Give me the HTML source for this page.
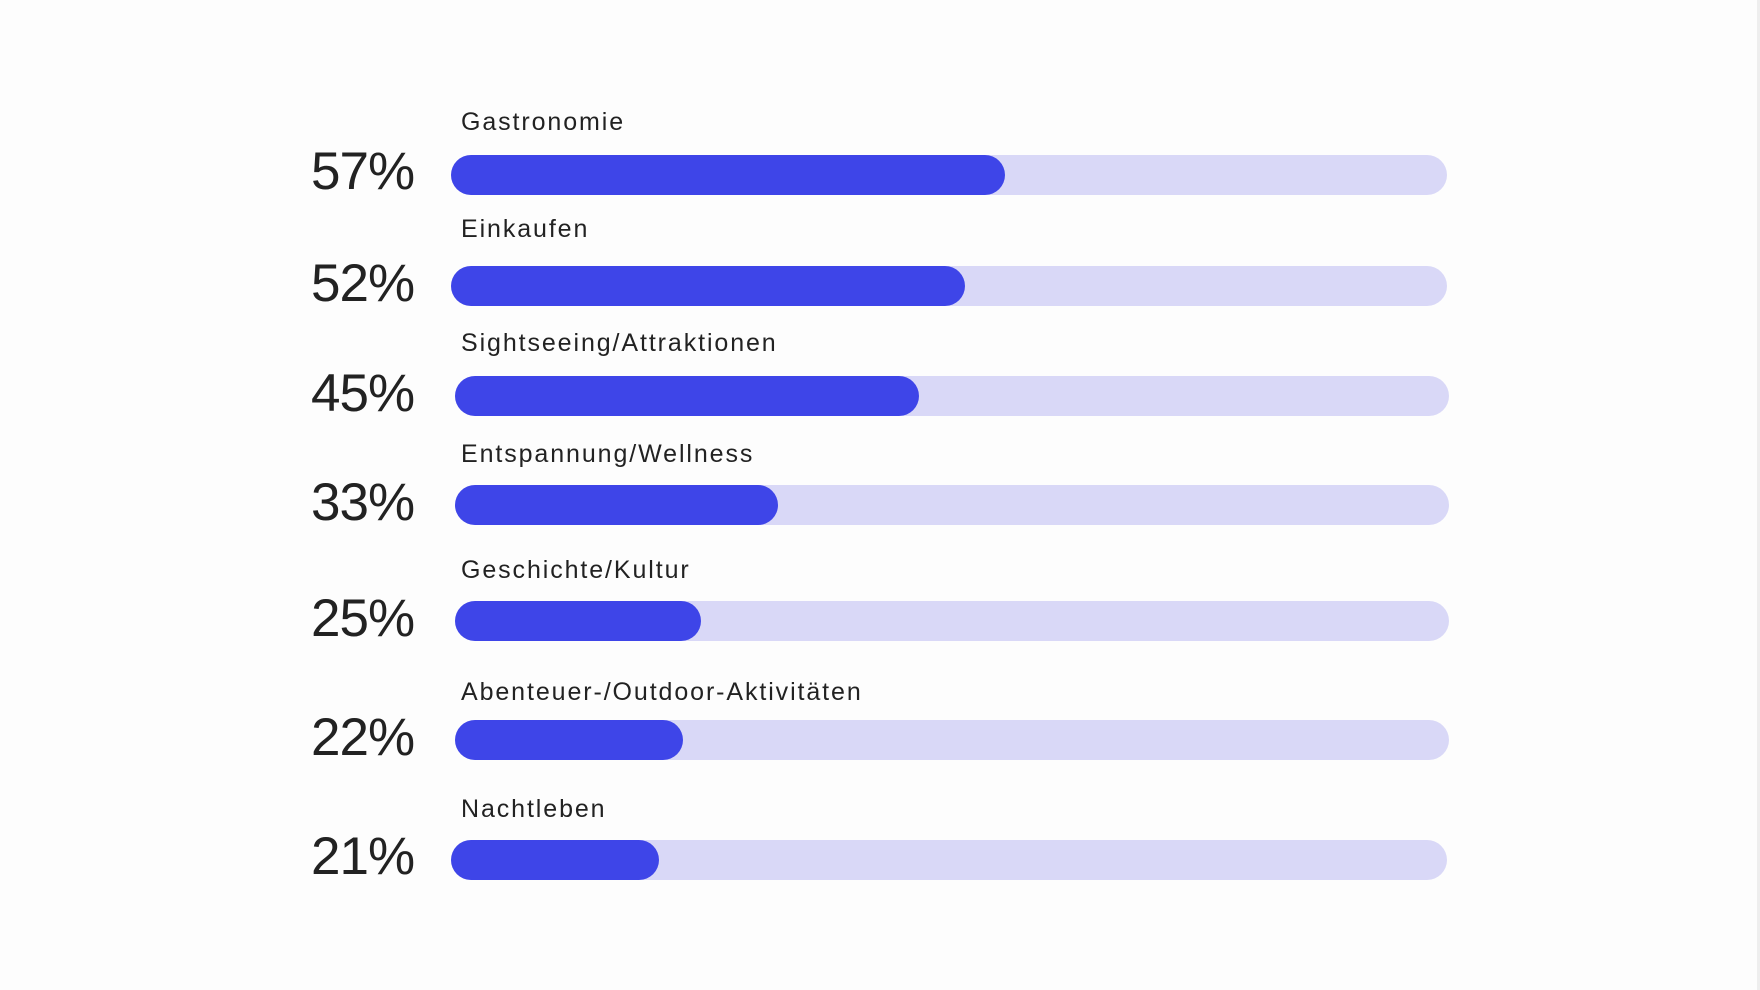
<!DOCTYPE html>
<html><head><meta charset="utf-8"><style>
html,body{margin:0;padding:0;background:#fdfdfd;}
body{width:1760px;height:990px;position:relative;overflow:hidden;font-family:"Liberation Sans",sans-serif;color:#222;}
.pct{position:absolute;left:311px;font-size:53px;line-height:60px;height:60px;letter-spacing:-1px;}
.lab{position:absolute;left:461px;font-size:25px;line-height:30px;height:30px;letter-spacing:1.9px;white-space:nowrap;}
.track{position:absolute;height:40px;border-radius:20px;background:#d9d8f7;}
.fill{position:absolute;left:0;top:0;height:40px;border-radius:20px;background:#3e45e8;}
.vl{position:absolute;left:1757px;top:0;width:3px;height:990px;background:#eeeeee;}
</style></head><body>
<div class="vl"></div>

<div class="lab" style="top:107px">Gastronomie</div>
<div class="pct" style="top:142px">57%</div>
<div class="track" style="left:451px;width:996px;top:155px"><div class="fill" style="width:554px"></div></div>

<div class="lab" style="top:214px">Einkaufen</div>
<div class="pct" style="top:254px">52%</div>
<div class="track" style="left:451px;width:996px;top:266px"><div class="fill" style="width:514px"></div></div>

<div class="lab" style="top:328px">Sightseeing/Attraktionen</div>
<div class="pct" style="top:364px">45%</div>
<div class="track" style="left:455px;width:994px;top:376px"><div class="fill" style="width:464px"></div></div>

<div class="lab" style="top:439px">Entspannung/Wellness</div>
<div class="pct" style="top:473px">33%</div>
<div class="track" style="left:455px;width:994px;top:485px"><div class="fill" style="width:323px"></div></div>

<div class="lab" style="top:555px">Geschichte/Kultur</div>
<div class="pct" style="top:589px">25%</div>
<div class="track" style="left:455px;width:994px;top:601px"><div class="fill" style="width:246px"></div></div>

<div class="lab" style="top:677px">Abenteuer-/Outdoor-Aktivitäten</div>
<div class="pct" style="top:708px">22%</div>
<div class="track" style="left:455px;width:994px;top:720px"><div class="fill" style="width:228px"></div></div>

<div class="lab" style="top:794px">Nachtleben</div>
<div class="pct" style="top:827px">21%</div>
<div class="track" style="left:451px;width:996px;top:840px"><div class="fill" style="width:208px"></div></div>
</body></html>
